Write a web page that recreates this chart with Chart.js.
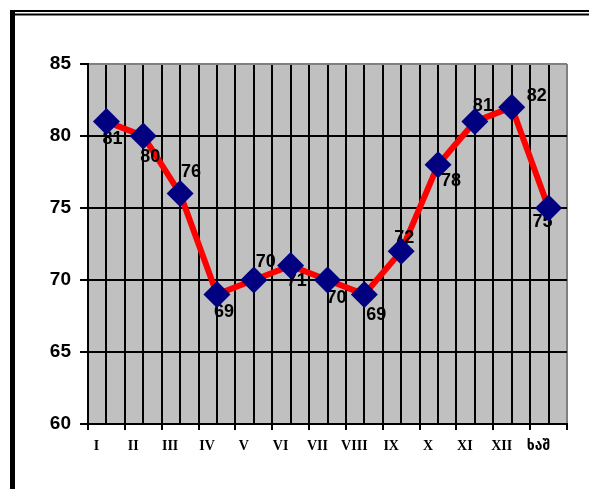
<!DOCTYPE html>
<html>
<head>
<meta charset="utf-8">
<script src="https://cdn.jsdelivr.net/npm/chart.js@4"></script>
<style>
  html, body { margin: 0; padding: 0; background: #fff; }
  canvas { display: block; }
</style>
</head>
<body>
<canvas id="c" width="589" height="489"></canvas>
<script>
// Monthly values, the last column is the yearly figure
const months = ['I', 'II', 'III', 'IV', 'V', 'VI', 'VII', 'VIII', 'IX', 'X', 'XI', 'XII', 'ხაშ'];
const values = [81, 80, 76, 69, 70, 71, 70, 69, 72, 78, 81, 82, 75];
const yTicks = [60, 65, 70, 75, 80, 85];

// Where each value label sits relative to its point (dx, dy in px)
const labelShift = [
  [6, 17], [7, 21], [11, -22], [7, 18], [12, -18], [6, 15], [9, 18],
  [12, 21], [3, -13], [13, 16], [8, -16], [25, -11], [-6, 14]
];

const BLACK = '#000000';
const GREY = '#808080';

// White page, plot background and the double-ruled frame
const backdrop = {
  id: 'backdrop',
  beforeDraw(chart) {
    const { ctx, chartArea: a, width, height } = chart;
    ctx.save();
    ctx.fillStyle = '#ffffff';
    ctx.fillRect(0, 0, width, height);
    ctx.fillStyle = '#c0c0c0';
    ctx.fillRect(a.left, a.top, a.right - a.left, a.bottom - a.top);
    ctx.fillStyle = BLACK;
    ctx.fillRect(10, 10, width - 10, 2);
    ctx.fillRect(10, 13.5, width - 10, 2);
    ctx.fillRect(10, 10, 5, height - 10);
    ctx.restore();
  }
};

// Value labels: drawn over the red line but beneath the diamonds
const pointLabels = {
  id: 'pointLabels',
  afterDatasetDraw(chart, args) {
    if (args.index !== 1) return;
    const ctx = chart.ctx;
    const meta = chart.getDatasetMeta(1);
    ctx.save();
    ctx.font = 'bold 18px "Liberation Sans", Arial, sans-serif';
    ctx.fillStyle = BLACK;
    ctx.textAlign = 'center';
    ctx.textBaseline = 'middle';
    meta.data.forEach((pt, i) => {
      const [dx, dy] = labelShift[i];
      ctx.fillText(String(values[i]), pt.x + dx, pt.y + dy);
    });
    ctx.restore();
  }
};

new Chart(document.getElementById('c'), {
  type: 'line',
  data: {
    labels: months,
    datasets: [
      {
        // diamonds (drawn last, on top)
        data: values,
        showLine: false,
        pointStyle: 'rectRot',
        pointRadius: 13.5,
        pointHoverRadius: 13.5,
        pointBackgroundColor: '#000080',
        pointBorderWidth: 0,
        xAxisID: 'x',
        yAxisID: 'y'
      },
      {
        // red connecting line
        data: values,
        borderColor: '#ff0000',
        borderWidth: 6,
        pointRadius: 0,
        tension: 0,
        fill: false,
        xAxisID: 'x',
        yAxisID: 'y'
      }
    ]
  },
  options: {
    responsive: false,
    animation: false,
    devicePixelRatio: 1,
    layout: { padding: { left: 0, top: 64, right: 22, bottom: 0 } },
    plugins: { legend: { display: false }, tooltip: { enabled: false } },
    scales: {
      x: {
        type: 'category',
        position: 'bottom',
        offset: true,
        grid: {
          offset: true,
          color: ctx => (ctx.tick ? BLACK : GREY),
          tickColor: BLACK,
          lineWidth: 2,
          tickLength: 6
        },
        border: { display: true, color: BLACK, width: 2 },
        ticks: {
          color: BLACK,
          font: { family: '"Liberation Serif", "Times New Roman", "DejaVu Sans", sans-serif', size: 14, weight: 'bold' },
          padding: 8,
          labelOffset: -10,
          maxRotation: 0,
          autoSkip: false
        },
        afterFit: s => { s.height = 65; }
      },
      xMid: {
        type: 'category',
        position: 'top',
        offset: true,
        grid: { offset: false, color: BLACK, lineWidth: 2, drawTicks: false },
        border: { display: false },
        ticks: { display: false },
        afterFit: s => { s.height = 0; }
      },
      y: {
        min: yTicks[0],
        max: yTicks[yTicks.length - 1],
        grid: {
          color: ctx => (ctx.tick && ctx.tick.value === yTicks[yTicks.length - 1] ? GREY : BLACK),
          tickColor: BLACK,
          lineWidth: 2,
          tickLength: 8
        },
        border: { display: true, color: BLACK, width: 2 },
        ticks: {
          stepSize: yTicks[1] - yTicks[0],
          color: BLACK,
          font: { family: '"Liberation Sans", Arial, sans-serif', size: 19, weight: 'bold' },
          padding: 9
        },
        afterFit: s => { s.width = 88; }
      }
    }
  },
  plugins: [backdrop, pointLabels]
});
</script>
</body>
</html>
